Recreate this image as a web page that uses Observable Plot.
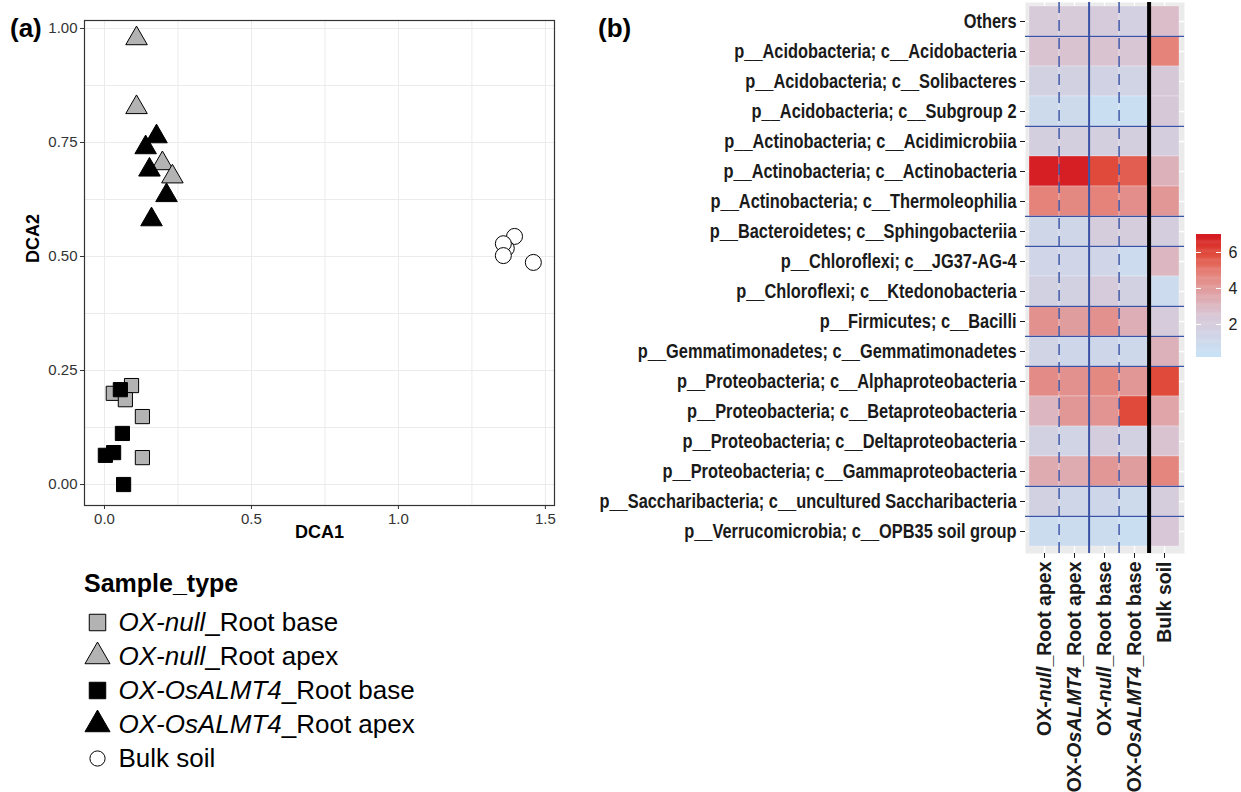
<!DOCTYPE html>
<html><head><meta charset="utf-8">
<script src="https://cdn.jsdelivr.net/npm/d3@7"></script>
<script src="https://cdn.jsdelivr.net/npm/@observablehq/plot@0.6"></script>
<style>
body{margin:0;background:#fff;font-family:"Liberation Sans",Arial,Helvetica,sans-serif;}
#root{position:relative;width:1241px;height:792px;overflow:hidden;background:#fff;}
.abs{position:absolute;}
.tag{position:absolute;font-weight:bold;font-size:26px;line-height:1;}
.ltitle{position:absolute;font-weight:bold;font-size:25px;line-height:1;}
svg{overflow:visible;}
</style></head><body>
<div id="root"></div>
<script>
// ---------------- data ----------------
const sampleTypes = ["OX-null_Root base", "OX-null_Root apex", "OX-OsALMT4_Root base", "OX-OsALMT4_Root apex", "Bulk soil"];
const symbolOf = ["square", "triangle", "square", "triangle", "circle"];
const fillOf = ["#b3b3b3", "#b3b3b3", "#000000", "#000000", "#ffffff"];

// DCA ordination points
const pointType = [
  "OX-null_Root base","OX-null_Root base","OX-null_Root base","OX-null_Root base","OX-null_Root base",
  "OX-null_Root apex","OX-null_Root apex","OX-null_Root apex","OX-null_Root apex",
  "OX-OsALMT4_Root base","OX-OsALMT4_Root base","OX-OsALMT4_Root base","OX-OsALMT4_Root base","OX-OsALMT4_Root base",
  "OX-OsALMT4_Root apex","OX-OsALMT4_Root apex","OX-OsALMT4_Root apex","OX-OsALMT4_Root apex","OX-OsALMT4_Root apex",
  "Bulk soil","Bulk soil","Bulk soil","Bulk soil","Bulk soil"
];
const dca1 = [0.092, 0.030, 0.071, 0.129, 0.129,
              0.109, 0.109, 0.197, 0.231,
              0.054, 0.061, 0.031, 0.003, 0.065,
              0.177, 0.140, 0.153, 0.211, 0.160,
              1.395, 1.367, 1.357, 1.357, 1.459];
const dca2 = [0.217, 0.200, 0.186, 0.149, 0.059,
              0.978, 0.827, 0.704, 0.675,
              0.208, 0.112, 0.070, 0.064, 0.000,
              0.763, 0.739, 0.690, 0.634, 0.581,
              0.544, 0.518, 0.528, 0.502, 0.487];
const xTicks = [0, 0.5, 1.0, 1.5];
const yTicks = [0, 0.25, 0.5, 0.75, 1.0];
const xGrid = [0, 0.25, 0.5, 0.75, 1.0, 1.25, 1.5];
const yGrid = [0, 0.125, 0.25, 0.375, 0.5, 0.625, 0.75, 0.875, 1.0];

// Heatmap
const taxa = [
  "Others",
  "p__Acidobacteria; c__Acidobacteria",
  "p__Acidobacteria; c__Solibacteres",
  "p__Acidobacteria; c__Subgroup 2",
  "p__Actinobacteria; c__Acidimicrobiia",
  "p__Actinobacteria; c__Actinobacteria",
  "p__Actinobacteria; c__Thermoleophilia",
  "p__Bacteroidetes; c__Sphingobacteriia",
  "p__Chloroflexi; c__JG37-AG-4",
  "p__Chloroflexi; c__Ktedonobacteria",
  "p__Firmicutes; c__Bacilli",
  "p__Gemmatimonadetes; c__Gemmatimonadetes",
  "p__Proteobacteria; c__Alphaproteobacteria",
  "p__Proteobacteria; c__Betaproteobacteria",
  "p__Proteobacteria; c__Deltaproteobacteria",
  "p__Proteobacteria; c__Gammaproteobacteria",
  "p__Saccharibacteria; c__uncultured Saccharibacteria",
  "p__Verrucomicrobia; c__OPB35 soil group"
];
const groups = ["OX-null_Root apex", "OX-OsALMT4_Root apex", "OX-null_Root base", "OX-OsALMT4_Root base", "Bulk soil"];
const nullApex    = [2.2, 2.6, 1.6, 0.9, 1.8, 6.8, 4.8, 1.2, 1.3, 1.6, 4.3, 1.4, 4.5, 3.0, 1.6, 3.4, 1.6, 0.7];
const almtApex    = [2.2, 2.6, 1.6, 0.9, 1.8, 6.8, 4.6, 1.2, 1.3, 1.6, 3.9, 1.1, 4.3, 4.1, 1.4, 3.4, 1.2, 0.7];
const nullBase    = [2.1, 2.6, 1.5, 0.6, 1.8, 5.9, 4.8, 2.0, 1.3, 2.1, 4.3, 1.1, 4.6, 4.2, 1.9, 4.1, 1.1, 0.7];
const almtBase    = [1.7, 2.5, 1.4, 0.6, 1.8, 5.5, 4.4, 2.0, 0.8, 1.6, 3.3, 1.0, 4.1, 5.9, 1.6, 3.9, 0.9, 0.6];
const bulkSoil    = [2.8, 4.8, 2.3, 2.3, 1.9, 3.2, 4.1, 1.9, 3.0, 0.8, 2.1, 3.2, 5.9, 3.6, 2.6, 4.7, 2.0, 2.4];
const phylumStarts = [
  "p__Acidobacteria; c__Acidobacteria",
  "p__Actinobacteria; c__Acidimicrobiia",
  "p__Bacteroidetes; c__Sphingobacteriia",
  "p__Chloroflexi; c__JG37-AG-4",
  "p__Firmicutes; c__Bacilli",
  "p__Gemmatimonadetes; c__Gemmatimonadetes",
  "p__Proteobacteria; c__Alphaproteobacteria",
  "p__Saccharibacteria; c__uncultured Saccharibacteria",
  "p__Verrucomicrobia; c__OPB35 soil group"
];
const colorStops = [0.17, 2.5, 4.8, 5.9, 7.0];
const colorRange = ["#c7e3f7", "#d9c6d5", "#e5827a", "#e04a3a", "#d4161f"];
const legendTicks = [2, 4, 6];

// ---------------- build ----------------
const FONT = "Liberation Sans, Arial, Helvetica, sans-serif";
const root = document.getElementById("root");
const SVGNS = "http://www.w3.org/2000/svg";
function place(el, left, top) {
  const d = document.createElement("div");
  d.className = "abs"; d.style.left = left + "px"; d.style.top = top + "px";
  d.appendChild(el); root.appendChild(d); return d;
}
function richify(t, parts) {
  t.textContent = "";
  for (const p of parts) {
    const ts = document.createElementNS(SVGNS, "tspan");
    ts.textContent = p.t;
    if (p.i) ts.setAttribute("font-style", "italic");
    t.appendChild(ts);
  }
}

const points = pointType.map((t, i) => ({type: t, x: dca1[i], y: dca2[i]}));
const fillMap = Object.fromEntries(sampleTypes.map((s, i) => [s, fillOf[i]]));

// Panel (a): scatter
const scatter = Plot.plot({
  width: 570, height: 560,
  marginLeft: 84, marginTop: 20, marginRight: 16, marginBottom: 55,
  x: {domain: [-0.068, 1.531]},
  y: {domain: [-0.046, 1.0175]},
  symbol: {domain: sampleTypes, range: symbolOf},
  style: {fontFamily: FONT, background: "transparent", overflow: "visible"},
  marks: [
    Plot.ruleX(xGrid, {stroke: "#ebebeb", strokeWidth: 1}),
    Plot.ruleY(yGrid, {stroke: "#ebebeb", strokeWidth: 1}),
    Plot.axisX({ticks: xTicks, tickFormat: d => d.toFixed(1), tickSize: 4, tickPadding: 4, fontSize: 15, label: null, color: "#333"}),
    Plot.axisY({ticks: yTicks, tickFormat: d => d.toFixed(2), tickSize: 4, tickPadding: 3, fontSize: 15, label: null, color: "#333"}),
    Plot.text(["DCA1"], {frameAnchor: "bottom", dy: 32, fontWeight: "bold", fontSize: 18, fill: "black"}),
    Plot.text(["DCA2"], {frameAnchor: "left", dx: -51, rotate: -90, fontWeight: "bold", fontSize: 18, fill: "black"}),
    Plot.dot(points, {x: "x", y: "y", symbol: "type", fill: d => fillMap[d.type], stroke: "black", strokeWidth: 1, r: 8}),
    Plot.frame({stroke: "#333", strokeWidth: 1.2})
  ]
});
place(scatter, 0, 0);

// Legend for (a)
const ttl = document.createElement("div");
ttl.className = "ltitle"; ttl.style.left = "84px"; ttl.style.top = "571px"; ttl.textContent = "Sample_type";
root.appendChild(ttl);
const legend = Plot.plot({
  width: 320, height: 190, margin: 0,
  x: {domain: [0, 1], range: [22, 43], axis: null},
  y: {domain: sampleTypes, range: [27, 163], type: "point", padding: 0, axis: null},
  symbol: {domain: sampleTypes, range: symbolOf},
  style: {fontFamily: FONT, background: "transparent", overflow: "visible"},
  marks: [
    Plot.dot(sampleTypes.slice(0, 4), {x: 0, y: d => d, symbol: d => d, fill: d => fillMap[d], stroke: "black", strokeWidth: 1, r: 9.3}),
    Plot.dot(sampleTypes.slice(4), {x: 0, y: d => d, symbol: d => d, fill: d => fillMap[d], stroke: "black", strokeWidth: 1, r: 7.6}),
    Plot.text(sampleTypes, {x: 1, y: d => d, text: d => d, textAnchor: "start", fontSize: 26, fill: "black"})
  ]
});
place(legend, 75, 595);
legend.querySelectorAll('g[aria-label="text"] text').forEach(t => {
  const m = t.textContent.match(/^(OX-(?:null|OsALMT4))(_.*)$/);
  if (m) richify(t, [{t: m[1], i: true}, {t: m[2]}]);
});

// Panel (b): heatmap
const cells = [];
const series = [nullApex, almtApex, nullBase, almtBase, bulkSoil];
groups.forEach((g, j) => taxa.forEach((r, i) => cells.push({col: g, row: r, value: series[j][i]})));
const colorOpt = {type: "linear", domain: colorStops, range: colorRange, interpolate: "rgb"};
const yRange = [5, 547], xRange = [437, 591];
const bwY = (yRange[1] - yRange[0]) / taxa.length;
const bwX = (xRange[1] - xRange[0]) / groups.length;
const heat = Plot.plot({
  width: 651, height: 792,
  marginLeft: 435, marginRight: 57, marginTop: 2, marginBottom: 239,
  x: {domain: groups, range: xRange, padding: 0},
  y: {domain: taxa, range: yRange, padding: 0},
  color: colorOpt,
  style: {fontFamily: FONT, background: "transparent", overflow: "visible"},
  marks: [
    Plot.frame({fill: "#ebebeb"}),
    Plot.ruleY(taxa, {stroke: "white", strokeWidth: 1.3}),
    Plot.ruleX(groups, {stroke: "white", strokeWidth: 1.3}),
    Plot.cell(cells, {x: "col", y: "row", fill: "value", inset: 0, stroke: "white", strokeWidth: 0.5, strokeOpacity: 0.55}),
    Plot.ruleY(phylumStarts, {y: d => d, dy: -bwY / 2, stroke: "#3952a6", strokeWidth: 1.3}),
    Plot.ruleX([groups[1], groups[3]], {x: d => d, dx: -bwX / 2, stroke: "#3952a6", strokeOpacity: 0.85, strokeWidth: 1.7, strokeDasharray: "11,7"}),
    Plot.ruleX([groups[2]], {x: d => d, dx: -bwX / 2, stroke: "#3952a6", strokeWidth: 2}),
    Plot.ruleX([groups[4]], {x: d => d, dx: -bwX / 2, stroke: "black", strokeWidth: 4}),
    Plot.axisY({tickSize: 5, tickPadding: 4, fontSize: 19.5, fontWeight: "bold", label: null, color: "#1a1a1a"}),
    Plot.axisX({tickSize: 5, tickPadding: 3, tickRotate: -90, fontSize: 19.5, fontWeight: "bold", label: null, color: "#1a1a1a"})
  ]
});
place(heat, 590, 0);
heat.querySelectorAll('g[aria-label="x-axis tick label"] text').forEach(t => {
  const m = t.textContent.match(/^(OX-)(null|OsALMT4)(_.*)$/);
  if (m) richify(t, [{t: m[1]}, {t: m[2], i: true}, {t: m[3]}]);
});
heat.querySelectorAll('g[aria-label="y-axis tick label"] text').forEach(t => {
  const L = t.getComputedTextLength();
  t.setAttribute("textLength", (L * 0.84).toFixed(1));
  t.setAttribute("lengthAdjust", "spacingAndGlyphs");
});

// Color legend
const step = 0.05;
const rampVals = d3.range(colorStops[0], colorStops[colorStops.length - 1], step);
const ramp = Plot.plot({
  width: 55, height: 140, marginLeft: 10, marginRight: 20, marginTop: 9, marginBottom: 8,
  x: {domain: [0, 1], axis: null},
  y: {domain: [colorStops[0], colorStops[colorStops.length - 1]], axis: null},
  color: colorOpt,
  style: {fontFamily: FONT, background: "transparent", overflow: "visible"},
  marks: [
    Plot.rect(rampVals, {x1: 0, x2: 1, y1: d => d, y2: d => Math.min(d + step * 1.5, colorStops[colorStops.length - 1]), fill: d => d + step / 2}),
    Plot.ruleY(legendTicks, {x1: 0, x2: 0.2, stroke: "white", strokeWidth: 1}),
    Plot.ruleY(legendTicks, {x1: 0.8, x2: 1, stroke: "white", strokeWidth: 1}),
    Plot.text(legendTicks, {x: 1, y: d => d, dx: 7, text: d => String(d), textAnchor: "start", fontSize: 16, fill: "#222"})
  ]
});
place(ramp, 1186, 225);

// panel tags
for (const [txt, left] of [["(a)", 10], ["(b)", 598]]) {
  const d = document.createElement("div");
  d.className = "tag"; d.style.left = left + "px"; d.style.top = "15px"; d.textContent = txt;
  root.appendChild(d);
}
</script>
</body></html>
